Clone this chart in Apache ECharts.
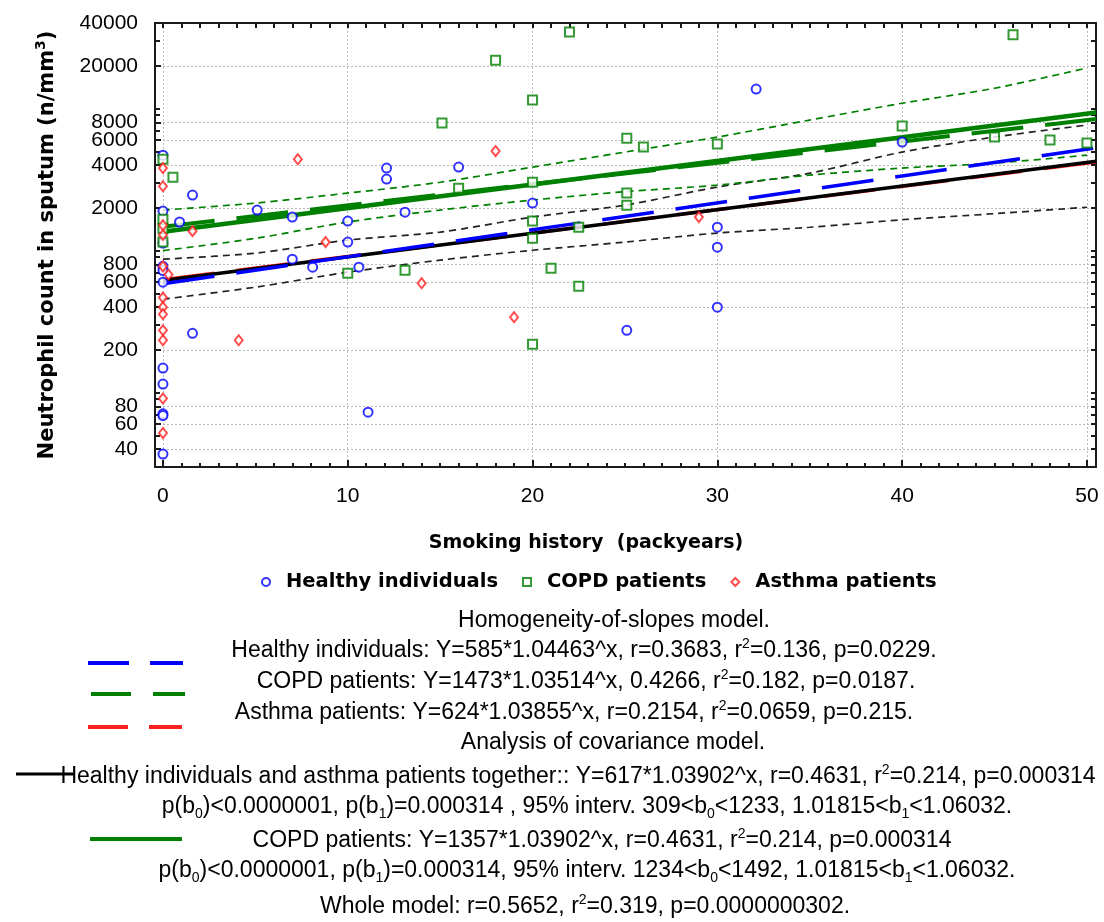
<!DOCTYPE html>
<html><head><meta charset="utf-8">
<script src="https://cdn.jsdelivr.net/npm/echarts@6/dist/echarts.min.js"></script>
<style>html,body{margin:0;padding:0;background:#fff}#c{width:1104px;height:922px}</style>
</head><body><div id="c"></div>
<script>
// ---- data ----
const healthyX = [0,0,0,0,0,0,0,0,0,0,0, 0.9,1.6,1.6,5.1,7.0,7.0,8.1,10.0,10.0,10.6,11.1,12.1,12.1,13.1,16.0,20.0,25.1,30.0,30.0,30.0,32.1,40.0];
const healthyY = [4700,1900,1130,775,724,600,149,115,71,69,37, 1590,2460,262,1930,1722,871,765,1615,1148,765,73,3810,3190,1866,3870,2160,275,1462,1057,400,13700,5810];

const copdX = [0,0,0,0, 0.54,10.0,13.1,15.1,16.0,18.0,20.0,20.0,20.0,20.0,20.0,21.0,22.0,22.5,22.5,25.1,25.1,25.1,26.0,30.0,40.0,45.0,46.0,48.0,50.0];
const copdY = [4400,1660,1430,1148, 3290,693,729,7900,2750,21900,11500,3030,1615,1224,219,753,34600,1462,562,6190,2540,2090,5360,5620,7530,6300,33000,6000,5710];

const asthmaX = [0,0,0,0,0,0,0,0,0,0,0,0, 0.3,1.6,4.1,7.3,8.8,14.0,18.0,19.0,29.0];
const asthmaY = [3810,2840,1510,1290,775,467,400,357,275,234,91,52, 680,1371,234,4400,1148,590,5020,340,1722];

// fitted lines (end points)
const fitX = [0, 50.5];
const healthyFit = [585, 5300];
const copdFit = [1473, 8430];
const asthmaFit = [624, 4210];
const ancovaHAFit = [617, 4260];
const ancovaCopdFit = [1357, 9380];

// confidence bands
const bandX = [0,5,10,15,20,25,30,35,40,45,50];
const blackUpper = [871,960,1186,1350,1722,2090,2800,3510,4940,6300,7650];
const blackLower = [455,553,705,857,1006,1148,1330,1460,1650,1820,2020];
const greenUpper = [1930,2160,2540,3030,3870,4940,6300,8300,10900,13900,19300];
const greenLower = [1000,1220,1590,1930,2270,2600,2890,3400,3810,4130,4700];

// axis ticks
const xTickLabels = [0,10,20,30,40,50];
const xMinorTicks = Array.from({length:51},(_,i)=>i);
const yTickLabels = [40,60,80,200,400,600,800,2000,4000,6000,8000,20000,40000];
const yMinorTicks = [30,40,50,60,70,80,90,100,200,300,400,500,600,700,800,900,1000,2000,3000,4000,5000,6000,7000,8000,9000,10000,20000,30000,40000];

const L = Math.log10;
const pts = (xs, ys) => xs.map((x,i)=>[x, L(ys[i])]);

const xMin = -0.43, xMax = 50.49;
const yMin = L(30), yMax = L(40000);

const BLUE = '#0000ff', GREEN = '#008000', RED = '#ff2020';
const AX = '#1a1a1a';

const chart = echarts.init(document.getElementById('c'), null, {renderer:'canvas'});

const baseX = {type:'value', min:xMin, max:xMax, gridIndex:0};
const baseY = {type:'value', min:yMin, max:yMax, gridIndex:0};
const NUMFONT = 'Liberation Sans, Arial, sans-serif';

const xAxes = [
  Object.assign({}, baseX, {
    position:'bottom',
    axisLine:{show:true, onZero:false, lineStyle:{color:AX, width:2}},
    axisTick:{show:true, inside:true, length:7, customValues:xTickLabels, lineStyle:{color:AX, width:2}},
    axisLabel:{show:true, customValues:xTickLabels, margin:19, color:'#000', fontSize:21, fontFamily:NUMFONT},
    splitLine:{show:true, lineStyle:{color:'#b8b8b8', width:1, type:[2,2]}}
  }),
  Object.assign({}, baseX, {
    position:'bottom',
    axisLine:{show:false, onZero:false},
    axisTick:{show:true, inside:true, length:4, customValues:xMinorTicks, lineStyle:{color:AX, width:2}},
    axisLabel:{show:false}, splitLine:{show:false}
  }),
  Object.assign({}, baseX, {
    position:'top',
    axisLine:{show:true, onZero:false, lineStyle:{color:AX, width:2}},
    axisTick:{show:true, inside:true, length:5, customValues:xMinorTicks, lineStyle:{color:AX, width:2}},
    axisLabel:{show:false}, splitLine:{show:false}
  })
];

const yAxes = [
  Object.assign({}, baseY, {
    position:'left',
    axisLine:{show:true, onZero:false, lineStyle:{color:AX, width:2}},
    axisTick:{show:true, inside:true, length:6, customValues:yTickLabels.map(L), lineStyle:{color:AX, width:2}},
    axisLabel:{show:true, customValues:yTickLabels.map(L), margin:17, color:'#000', fontSize:21,
      fontFamily:NUMFONT,
      formatter:(v)=>String(Math.round(Math.pow(10, v)))},
    splitLine:{show:true, lineStyle:{color:'#b8b8b8', width:1, type:[2,2]}}
  }),
  Object.assign({}, baseY, {
    position:'left',
    axisLine:{show:false, onZero:false},
    axisTick:{show:true, inside:true, length:5, customValues:yMinorTicks.map(L), lineStyle:{color:AX, width:2}},
    axisLabel:{show:false}, splitLine:{show:false}
  }),
  Object.assign({}, baseY, {
    position:'right',
    axisLine:{show:true, onZero:false, lineStyle:{color:AX, width:2}},
    axisTick:{show:true, inside:true, length:5, customValues:yMinorTicks.map(L), lineStyle:{color:AX, width:2}},
    axisLabel:{show:false}, splitLine:{show:false}
  })
];

function lineSeries(name, xs, ys, color, width, dash, smooth, z) {
  return {
    name, type:'line', xAxisIndex:0, yAxisIndex:0, data: pts(xs, ys),
    showSymbol:false, symbol:'none', smooth: smooth || false, z: z,
    lineStyle:{color, width, type: dash || 'solid'}, silent:true
  };
}

const series = [
  lineSeries('bu', bandX, blackUpper, '#222', 1.7, [7,5], 0.3, 2),
  lineSeries('bl', bandX, blackLower, '#222', 1.7, [7,5], 0.3, 2),
  lineSeries('gu', bandX, greenUpper, GREEN, 1.7, [7,5], 0.3, 2),
  lineSeries('gl', bandX, greenLower, GREEN, 1.7, [7,5], 0.3, 2),
  lineSeries('asthmaFit', fitX, asthmaFit, RED, 3.5, [52,22], false, 3),
  lineSeries('haFit', fitX, ancovaHAFit, '#000', 3.5, null, false, 4),
  lineSeries('healthyFit', fitX, healthyFit, BLUE, 3.5, [52,22], false, 4),
  lineSeries('copdFit', fitX, copdFit, GREEN, 4, [52,22], false, 4),
  lineSeries('copdAncova', fitX, ancovaCopdFit, GREEN, 4.5, null, false, 4),
  {name:'Healthy individuals', type:'scatter', symbol:'emptyCircle', symbolSize:9, data: pts(healthyX, healthyY),
   itemStyle:{color:BLUE}, z:6},
  {name:'COPD patients', type:'scatter', symbol:'emptyRect', symbolSize:9, data: pts(copdX, copdY),
   itemStyle:{color:GREEN}, z:6},
  {name:'Asthma patients', type:'scatter', symbol:'emptyDiamond', symbolSize:[8,10], data: pts(asthmaX, asthmaY),
   itemStyle:{color:RED}, z:6}
];

const BOLDF = 'DejaVu Sans, sans-serif';
const TXTF = 'Liberation Sans, Arial, sans-serif';
const richN = {
  sup:{fontSize:14, verticalAlign:'top', fontFamily:TXTF, fill:'#000'},
  sub:{fontSize:14, verticalAlign:'bottom', fontFamily:TXTF, fill:'#000'}
};
const richB = {
  sup:{fontSize:14, verticalAlign:'top', fontFamily:BOLDF, fontWeight:'bold', fill:'#000'}
};
function txt(text, x, y, opts) {
  opts = opts || {};
  return {type:'text', x, y, rotation: opts.rotation || 0, silent:true,
    style:{text, align: opts.align || 'center', verticalAlign:'middle', fill:'#000',
      fontSize: opts.fontSize || 23, fontFamily: opts.bold ? BOLDF : TXTF, fontWeight: opts.bold ? 'bold' : 'normal',
      lineHeight: opts.lineHeight || 28, rich: opts.bold ? richB : richN}};
}
function seg(x1, x2, y, color, w) {
  return {type:'line', silent:true, shape:{x1, y1:y, x2, y2:y}, style:{stroke:color, lineWidth:w}};
}

const graphics = [
  txt('Smoking history  (packyears)', 586, 543, {bold:true, fontSize:19}),
  txt('Neutrophil count in sputum (n/mm{sup|3})', 48, 245, {bold:true, fontSize:21, rotation:Math.PI/2}),
  txt('Homogeneity-of-slopes model.', 614, 621),
  txt('Healthy individuals: Y=585*1.04463^x, r=0.3683, r{sup|2}=0.136, p=0.0229.', 584, 651),
  txt('COPD patients: Y=1473*1.03514^x, 0.4266, r{sup|2}=0.182, p=0.0187.', 586, 682),
  txt('Asthma patients: Y=624*1.03855^x, r=0.2154, r{sup|2}=0.0659, p=0.215.', 574, 713),
  txt('Analysis of covariance model.', 613, 743),
  txt('Healthy individuals and asthma patients together:: Y=617*1.03902^x, r=0.4631, r{sup|2}=0.214, p=0.000314', 578, 777),
  txt('p(b{sub|0})<0.0000001, p(b{sub|1})=0.000314 , 95% interv. 309<b{sub|0}<1233, 1.01815<b{sub|1}<1.06032.', 587, 807),
  txt('COPD patients: Y=1357*1.03902^x, r=0.4631, r{sup|2}=0.214, p=0.000314', 602, 841),
  txt('p(b{sub|0})<0.0000001, p(b{sub|1})=0.000314, 95% interv. 1234<b{sub|0}<1492, 1.01815<b{sub|1}<1.06032.', 587, 871),
  txt('Whole model: r=0.5652, r{sup|2}=0.319, p=0.0000000302.', 585, 907),
  seg(88,129,663,BLUE,4), seg(150,183,663,BLUE,4),
  seg(91,131,694,GREEN,4), seg(153,185,694,GREEN,4),
  seg(88,128,727,RED,4), seg(149,182,727,RED,4),
  seg(16,73,774,'#000',3),
  seg(90,182,839,GREEN,4)
];

chart.setOption({
  animation:false,
  backgroundColor:'#fff',
  grid:{left:155, top:23, width:941, height:444, containLabel:false},
  xAxis: xAxes,
  yAxis: yAxes,
  legend:{
    data:['Healthy individuals','COPD patients','Asthma patients'],
    left:261, top:572, padding:0, itemWidth:8, itemHeight:8, itemGap:24,
    textStyle:{fontFamily:BOLDF, fontWeight:'bold', fontSize:19.5, color:'#000', padding:[0,0,0,11]},
    selectedMode:false
  },
  series,
  graphic: graphics
});
</script>
</body></html>
